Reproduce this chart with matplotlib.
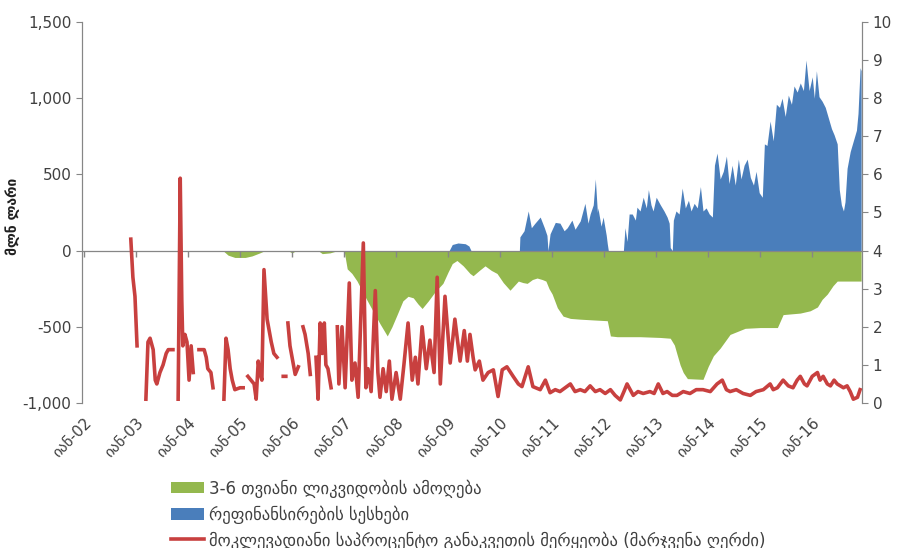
import numpy as np
import matplotlib
matplotlib.use("Agg")
import matplotlib.pyplot as plt
from matplotlib.ticker import FuncFormatter, MultipleLocator

plt.rcParams['font.family'] = ['DejaVu Sans']

nan = np.nan

# 3-6 month liquidity absorption (mln GEL, left axis)
green_t = [2004.67, 2004.77, 2004.90, 2005.10, 2005.23, 2005.38, 2005.48, 2005.92, 2006.00, 2006.08,
           2006.50, 2006.58, 2006.73, 2006.88, 2007.00, 2007.06, 2007.15, 2007.25, 2007.40, 2007.56,
           2007.69, 2007.83, 2007.92, 2008.02, 2008.13, 2008.23, 2008.33, 2008.42, 2008.50, 2008.62,
           2008.75, 2008.90, 2009.00, 2009.08, 2009.17, 2009.29, 2009.42, 2009.48, 2009.60, 2009.71,
           2009.83, 2009.94, 2010.06, 2010.19, 2010.27, 2010.35, 2010.44, 2010.52, 2010.62, 2010.71,
           2010.81, 2010.88, 2010.94, 2011.00, 2011.10, 2011.21, 2011.35, 2011.54, 2011.79, 2012.06,
           2012.12, 2012.25, 2012.69, 2013.08, 2013.27, 2013.35, 2013.40, 2013.46, 2013.52, 2013.60,
           2013.90, 2014.00, 2014.10, 2014.23, 2014.42, 2014.71, 2015.00, 2015.33, 2015.44, 2015.77,
           2015.96, 2016.10, 2016.19, 2016.29, 2016.40, 2016.48, 2016.94]
green_v = [0, -30, -45, -45, -35, -15, 0, 0, -15, 0,
           0, -20, -15, 0, 0, -120, -150, -200, -300, -400,
           -480, -560, -500, -420, -330, -300, -310, -350, -380, -330,
           -270, -215, -140, -85, -65, -100, -150, -165, -130, -100,
           -130, -150, -210, -260, -230, -200, -210, -215, -190, -180,
           -190, -200, -250, -285, -375, -430, -445, -450, -455, -460,
           -560, -565, -565, -570, -575, -620, -680, -750, -800, -840,
           -845, -760, -690, -640, -550, -510, -505, -505, -420, -410,
           -395, -370, -320, -285, -230, -200, -200]

# refinancing loans (mln GEL, left axis)
blue_t = [2009.02, 2009.08, 2009.19, 2009.33, 2009.40, 2009.44,
          2010.37, 2010.38, 2010.46, 2010.54, 2010.60, 2010.67, 2010.77, 2010.85, 2010.90, 2010.92,
          2010.96, 2011.06, 2011.15, 2011.23, 2011.29, 2011.38, 2011.44, 2011.54, 2011.63, 2011.69,
          2011.73, 2011.79, 2011.83, 2011.87, 2011.88, 2011.94, 2011.98, 2012.04, 2012.06, 2012.08,
          2012.37, 2012.40, 2012.44, 2012.48, 2012.54, 2012.60, 2012.63, 2012.69, 2012.75, 2012.81,
          2012.85, 2012.90, 2012.94, 2013.00, 2013.08, 2013.15, 2013.21, 2013.25, 2013.27, 2013.31,
          2013.33, 2013.38, 2013.44, 2013.50, 2013.56, 2013.62, 2013.67, 2013.73, 2013.79, 2013.85,
          2013.90, 2013.96, 2014.02, 2014.08, 2014.12, 2014.17, 2014.23, 2014.29, 2014.35, 2014.40,
          2014.46, 2014.52, 2014.58, 2014.63, 2014.69, 2014.75, 2014.81, 2014.87, 2014.92, 2014.98,
          2015.04, 2015.08, 2015.13, 2015.19, 2015.25, 2015.31, 2015.37, 2015.42, 2015.48, 2015.54,
          2015.60, 2015.65, 2015.71, 2015.77, 2015.83, 2015.88, 2015.94, 2016.00, 2016.04, 2016.08,
          2016.13, 2016.19, 2016.25, 2016.31, 2016.37, 2016.42, 2016.48, 2016.52, 2016.56, 2016.60,
          2016.63, 2016.67, 2016.73, 2016.79, 2016.85, 2016.88, 2016.92, 2016.94]
blue_v = [0, 40, 50, 45, 30, 0,
          0, 90, 130, 260, 150, 180, 220, 150, 100, 0,
          110, 185, 180, 130, 150, 200, 140, 195, 310, 180,
          240, 300, 470, 250, 280, 160, 220, 100, 45, 0,
          0, 150, 60, 240, 240, 200, 285, 260, 350, 280,
          400, 300, 260, 350, 300, 260, 220, 180, 20, 0,
          200, 260, 240, 410, 280, 330, 260, 310, 280, 420,
          260, 280, 240, 220, 560, 640, 470, 520, 620, 440,
          560, 430, 600, 470, 560, 600, 480, 430, 520, 380,
          350, 700, 690, 850, 720, 960, 940, 1000, 880, 1020,
          960, 1080, 1040, 1100, 1050, 1250, 1050, 1140, 1000, 1180,
          1010, 980, 940, 870, 800, 760, 700, 400, 300, 260,
          320, 540, 650, 720, 790, 900, 1200, 1180]

# short-term interest rate volatility (right axis)
red_t = [2002.90, 2002.94, 2002.98, 2003.02, 2003.08, 2003.19, 2003.23, 2003.27, 2003.33, 2003.37,
         2003.40, 2003.46, 2003.52, 2003.58, 2003.62, 2003.71, 2003.75, 2003.81, 2003.85, 2003.88,
         2003.90, 2003.94, 2003.98, 2004.02, 2004.06, 2004.10, 2004.15, 2004.21, 2004.31, 2004.35,
         2004.38, 2004.44, 2004.48, 2004.60, 2004.69, 2004.73, 2004.77, 2004.81, 2004.85, 2004.90,
         2005.00, 2005.06, 2005.10, 2005.15, 2005.21, 2005.27, 2005.31, 2005.35, 2005.38, 2005.42,
         2005.46, 2005.52, 2005.56, 2005.60, 2005.65, 2005.71, 2005.77, 2005.83, 2005.88, 2005.90,
         2005.92, 2005.96, 2006.00, 2006.06, 2006.12, 2006.15, 2006.21, 2006.25, 2006.31, 2006.35,
         2006.40, 2006.46, 2006.50, 2006.54, 2006.58, 2006.62, 2006.65, 2006.69, 2006.75, 2006.79,
         2006.87, 2006.90, 2006.96, 2007.02, 2007.10, 2007.15, 2007.21, 2007.27, 2007.37, 2007.42,
         2007.46, 2007.52, 2007.60, 2007.65, 2007.69, 2007.75, 2007.81, 2007.87, 2007.92, 2008.00,
         2008.08, 2008.15, 2008.23, 2008.31, 2008.37, 2008.42, 2008.50, 2008.58, 2008.65, 2008.73,
         2008.79, 2008.85, 2008.94, 2009.04, 2009.13, 2009.23, 2009.31, 2009.37, 2009.42, 2009.48,
         2009.52, 2009.60, 2009.67, 2009.77, 2009.87, 2009.96, 2010.04, 2010.13, 2010.25, 2010.35,
         2010.42, 2010.54, 2010.63, 2010.77, 2010.87, 2010.96, 2011.06, 2011.15, 2011.25, 2011.35,
         2011.44, 2011.54, 2011.63, 2011.73, 2011.83, 2011.92, 2012.02, 2012.12, 2012.21, 2012.31,
         2012.38, 2012.44, 2012.56, 2012.65, 2012.75, 2012.88, 2012.96, 2013.04, 2013.13, 2013.21,
         2013.31, 2013.40, 2013.52, 2013.65, 2013.77, 2013.90, 2014.04, 2014.17, 2014.27, 2014.35,
         2014.42, 2014.54, 2014.67, 2014.81, 2014.92, 2015.06, 2015.19, 2015.25, 2015.33, 2015.44,
         2015.54, 2015.63, 2015.71, 2015.77, 2015.85, 2015.90, 2016.00, 2016.10, 2016.15, 2016.21,
         2016.29, 2016.35, 2016.42, 2016.48, 2016.60, 2016.67, 2016.73, 2016.79, 2016.87, 2016.92]
red_v = [4.3, 3.3, 2.8, 1.5, nan, 0.1, 1.6, 1.7, 1.4, 0.6,
         0.5, 0.8, 1.0, 1.3, 1.4, 1.4, nan, 0.1, 5.9, 2.7,
         1.5, 1.8, 1.6, 0.6, 1.5, 0.8, nan, 1.4, 1.4, 1.2,
         0.9, 0.8, 0.4, nan, 0.1, 1.7, 1.4, 0.9, 0.6, 0.35,
         0.4, 0.4, nan, 0.7, 0.6, 0.5, 0.1, 1.1, 0.8, 0.6,
         3.5, 2.2, 1.9, 1.6, 1.3, 1.2, nan, 0.7, 0.7, nan,
         2.1, 1.5, 1.2, 0.75, 0.95, nan, 2.0, 1.8, 1.3, 0.75,
         nan, 1.2, 0.1, 2.1, 1.3, 2.1, 1.0, 0.9, 0.4, nan,
         2.0, 0.5, 2.0, 0.4, 3.15, 0.6, 1.05, 0.15, 4.2, 0.4,
         0.9, 0.3, 2.95, 0.8, 0.15, 0.9, 0.3, 1.1, 0.1, 0.8,
         0.1, 1.0, 2.1, 0.6, 1.2, 0.5, 2.0, 0.9, 1.65, 0.8,
         3.3, 0.5, 2.8, 1.05, 2.2, 1.1, 1.9, 1.1, 1.8, 1.2,
         0.87, 1.1, 0.6, 0.8, 0.87, 0.17, 0.87, 0.95, 0.7, 0.5,
         0.43, 0.95, 0.43, 0.35, 0.6, 0.27, 0.35, 0.3, 0.4, 0.5,
         0.3, 0.35, 0.3, 0.45, 0.3, 0.35, 0.25, 0.35, 0.2, 0.08,
         0.3, 0.5, 0.2, 0.3, 0.25, 0.3, 0.25, 0.5, 0.25, 0.3,
         0.2, 0.2, 0.3, 0.25, 0.35, 0.35, 0.3, 0.5, 0.6, 0.35,
         0.3, 0.35, 0.25, 0.2, 0.3, 0.35, 0.5, 0.35, 0.4, 0.6,
         0.45, 0.4, 0.6, 0.7, 0.5, 0.45, 0.7, 0.8, 0.6, 0.7,
         0.5, 0.45, 0.6, 0.5, 0.4, 0.45, 0.3, 0.1, 0.15, 0.35]

years = list(range(2002, 2017))
year_labels = [f"იან-{y % 100:02d}" for y in years]

legend_labels = ["3-6 თვიანი ლიკვიდობის ამოღება",
                 "რეფინანსირების სესხები",
                 "მოკლევადიანი საპროცენტო განაკვეთის მერყეობა (მარჯვენა ღერძი)"]

GREEN = "#94B84E"
BLUE = "#4A7EBB"
RED = "#C8403F"
GREY = "#868686"
TXT = "#404040"

fig = plt.figure(figsize=(9.01, 5.48), dpi=100)
ax = fig.add_axes([0.091, 0.2646, 0.866, 0.6953])
ax2 = ax.twinx()

g = ax.fill_between(green_t, green_v, 0, color=GREEN, lw=0, label=legend_labels[0])
b = ax.fill_between(blue_t, blue_v, 0, color=BLUE, lw=0, label=legend_labels[1])
ax.axhline(0, color=GREY, lw=0.9, zorder=3)
ax.plot(years, np.zeros(len(years)), ls="none", marker=3, ms=4, color=GREY, zorder=3)

r, = ax2.plot(red_t, red_v, color=RED, lw=2.6, label=legend_labels[2])

ax.set_xlim(2002 - 2 / 52, 2002 + 778 / 52)
ax.set_ylim(-1000, 1500)
ax.yaxis.set_major_locator(MultipleLocator(500))
ax.yaxis.set_major_formatter(FuncFormatter(lambda v, p: f"{v:,.0f}"))
ax2.set_ylim(0, 10)
ax2.yaxis.set_major_locator(MultipleLocator(1))

ax.set_xticks(years)
ax.set_xticklabels(year_labels, rotation=45, ha="right", rotation_mode="anchor")
ax.tick_params(axis="x", length=0, pad=9, labelsize=11, colors=TXT)
ax.tick_params(axis="y", length=4, color=GREY, labelsize=11, colors=TXT)
ax2.tick_params(axis="y", length=4, color=GREY, labelsize=11, colors=TXT)
for a in (ax, ax2):
    a.spines["top"].set_visible(False)
    a.spines["bottom"].set_visible(False)
    a.spines["left"].set_color(GREY)
    a.spines["right"].set_color(GREY)

ax.set_ylabel("მლნ ლარი", fontsize=10, fontweight="bold", color="#202020")
ax.yaxis.set_label_coords(-0.079, 0.49)

fig.legend(handles=[g, b, r], labels=legend_labels, loc="upper left",
           bbox_to_anchor=(0.182, 0.138), frameon=False, fontsize=12,
           handlelength=2.0, handletextpad=0.3, labelspacing=0.45, borderaxespad=0,
           labelcolor=TXT)

fig.savefig("out.png", dpi=100)
